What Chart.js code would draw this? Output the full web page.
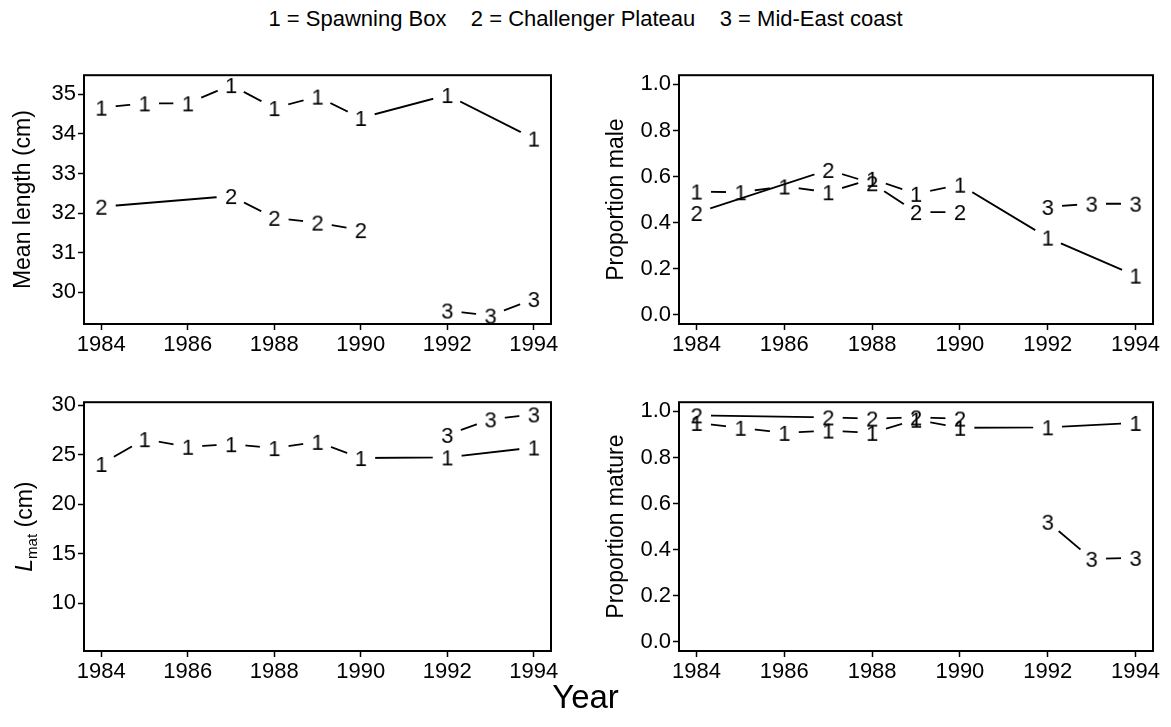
<!DOCTYPE html>
<html><head><meta charset="utf-8">
<script src="https://cdn.jsdelivr.net/npm/chart.js@4.4.0/dist/chart.umd.min.js"></script>
<style>
body{margin:0;background:#fff;width:1171px;height:727px;position:relative;overflow:hidden;font-family:"Liberation Sans",Arial,sans-serif;color:#000;}
.p{position:absolute;}
#title{position:absolute;top:6px;left:0;width:1171px;text-align:center;font-size:22px;white-space:pre;}
#xtitle{position:absolute;top:678px;left:0;width:1171px;text-align:center;font-size:33px;}
</style></head><body>
<div id="title">1 = Spawning Box    2 = Challenger Plateau    3 = Mid-East coast</div>
<canvas id="c1" class="p" style="left:0;top:60px" width="570" height="310"></canvas>
<canvas id="c2" class="p" style="left:590px;top:60px" width="581" height="310"></canvas>
<canvas id="c3" class="p" style="left:0;top:387px" width="570" height="310"></canvas>
<canvas id="c4" class="p" style="left:590px;top:387px" width="581" height="310"></canvas>
<div id="xtitle">Year</div>
<script>
// ---- data ----
const yearsSpawning = [1984, 1985, 1986, 1987, 1988, 1989, 1990, 1992, 1994];
const yearsChallenger = [1984, 1987, 1988, 1989, 1990];
const yearsMidEast = [1992, 1993, 1994];

const meanLengthSpawning = [34.66, 34.77, 34.77, 35.23, 34.65, 34.94, 34.40, 34.98, 33.88];
const meanLengthChallenger = [32.16, 32.43, 31.88, 31.76, 31.57];
const meanLengthMidEast = [29.54, 29.41, 29.83];

const propMaleSpawning = [0.535, 0.532, 0.557, 0.532, 0.59, 0.525, 0.565, 0.335, 0.17];
const propMaleChallenger = [0.442, 0.629, 0.571, 0.446, 0.446];
const propMaleMidEast = [0.468, 0.482, 0.482];

const lmatSpawning = [24.07, 26.57, 25.8, 26.07, 25.67, 26.3, 24.67, 24.73, 25.73];
const lmatMidEast = [27.0, 28.57, 29.07];

const propMatureSpawning = [0.95, 0.929, 0.907, 0.917, 0.907, 0.964, 0.929, 0.931, 0.95];
const propMatureChallenger = [0.983, 0.974, 0.969, 0.974, 0.969];
const propMatureMidEast = [0.521, 0.36, 0.364];

const yearTicks = [1984, 1986, 1988, 1990, 1992, 1994];
const meanLengthTicks = [30, 31, 32, 33, 34, 35];
const proportionTicks = [0, 0.2, 0.4, 0.6, 0.8, 1.0];
const lmatTicks = [10, 15, 20, 25, 30];

// ---- drawing ----
const FAM = '"Liberation Sans", Arial, sans-serif';
const GAP = 14.5;

function digitImg(d) {
  const c = document.createElement('canvas');
  c.width = 26; c.height = 28;
  const x = c.getContext('2d');
  x.font = '22px ' + FAM;
  x.fillStyle = '#000';
  x.textAlign = 'center';
  x.textBaseline = 'alphabetic';
  x.fillText(d, 13, 14 + 8);
  return c;
}
const IMG = {1: digitImg('1'), 2: digitImg('2'), 3: digitImg('3')};

const gapPlugin = {
  id: 'gap',
  beforeDatasetDraw(chart, args) {
    const ds = chart.data.datasets[args.index];
    if (!ds.gapLine) return;
    const ctx = chart.ctx;
    ctx.save();
    ctx.beginPath();
    ctx.rect(0, 0, chart.width, chart.height);
    args.meta.data.forEach(p => {
      ctx.moveTo(p.x + GAP, p.y);
      ctx.arc(p.x, p.y, GAP, 0, Math.PI * 2);
    });
    ctx.clip('evenodd');
  },
  afterDatasetDraw(chart, args) {
    if (chart.data.datasets[args.index].gapLine) chart.ctx.restore();
  }
};
const boxPlugin = {
  id: 'box',
  beforeDatasetsDraw(chart) {
    const a = chart.chartArea, ctx = chart.ctx;
    ctx.save();
    ctx.strokeStyle = '#000';
    ctx.lineWidth = 2;
    ctx.strokeRect(a.left, a.top, a.right - a.left, a.bottom - a.top);
    ctx.restore();
  }
};

function makePanel(id, p) {
  const datasets = [];
  p.series.forEach(s => {
    const data = s.x.map((x, i) => ({x: x, y: s.y[i]}));
    datasets.push({type: 'line', data: data, borderColor: '#000', borderWidth: 1.8,
      pointRadius: 0, fill: false, tension: 0, gapLine: true, order: 2});
    datasets.push({type: 'scatter', data: data, pointStyle: IMG[s.label], pointRadius: 10,
      showLine: false, clip: false, order: 1});
  });
  const plugins = [gapPlugin, boxPlugin];
  if (p.customTitle) plugins.push(p.customTitle);
  return new Chart(document.getElementById(id), {
    data: {datasets: datasets},
    plugins: plugins,
    options: {
      responsive: false, animation: false, events: [],
      layout: {padding: {left: 0, top: 14, right: p.padRight, bottom: 0}},
      plugins: {legend: {display: false}, tooltip: {enabled: false}},
      scales: {
        x: {
          type: 'linear', min: 1983.6, max: 1994.4,
          afterBuildTicks: s => { s.ticks = yearTicks.map(v => ({value: v})); },
          ticks: {callback: v => String(v), font: {size: 22, family: FAM}, color: '#000',
            padding: 2, maxRotation: 0, autoSkip: false},
          grid: {display: true, drawOnChartArea: false, drawTicks: true, tickLength: 6,
            tickColor: '#000', tickWidth: 1.5},
          border: {display: false},
          afterFit: s => { s.height = 46; }
        },
        y: {
          type: 'linear', min: p.yMin, max: p.yMax,
          afterBuildTicks: s => { s.ticks = p.yTicks.map(v => ({value: v})); },
          ticks: {callback: p.fmt, font: {size: 22, family: FAM}, color: '#000',
            padding: 2, autoSkip: false},
          grid: {display: true, drawOnChartArea: false, drawTicks: true, tickLength: 6,
            tickColor: '#000', tickWidth: 1.5},
          border: {display: false},
          title: {display: !!p.yTitle, text: p.yTitle || '', color: '#000',
            font: {size: 23, family: FAM}, padding: {top: p.titlePad, bottom: 0}},
          afterFit: s => { s.width = p.yWidth; }
        }
      }
    }
  });
}

const lmatTitle = {
  id: 'lmatTitle',
  afterDraw(chart) {
    const ctx = chart.ctx;
    const a = chart.chartArea;
    ctx.save();
    ctx.translate(24, (a.top + a.bottom) / 2);
    ctx.rotate(-Math.PI / 2);
    ctx.fillStyle = '#000';
    ctx.textBaseline = 'alphabetic';
    const f1 = 'italic 23px ' + FAM, f2 = '15px ' + FAM, f3 = '23px ' + FAM;
    ctx.font = f1; const w1 = ctx.measureText('L').width;
    ctx.font = f2; const w2 = ctx.measureText('mat').width;
    ctx.font = f3; const w3 = ctx.measureText(' (cm)').width;
    let x = -(w1 + w2 + w3) / 2;
    ctx.font = f1; ctx.fillText('L', x, 8); x += w1;
    ctx.font = f2; ctx.fillText('mat', x, 13); x += w2;
    ctx.font = f3; ctx.fillText(' (cm)', x, 8);
    ctx.restore();
  }
};

const fmtInt = v => String(v);
const fmt1 = v => Number(v).toFixed(1);

makePanel('c1', {
  series: [
    {label: 1, x: yearsSpawning, y: meanLengthSpawning},
    {label: 2, x: yearsChallenger, y: meanLengthChallenger},
    {label: 3, x: yearsMidEast, y: meanLengthMidEast}
  ],
  yMin: 29.2, yMax: 35.48, yTicks: meanLengthTicks, fmt: fmtInt,
  yTitle: 'Mean length (cm)', titlePad: 10, yWidth: 84, padRight: 19
});
makePanel('c2', {
  series: [
    {label: 1, x: yearsSpawning, y: propMaleSpawning},
    {label: 2, x: yearsChallenger, y: propMaleChallenger},
    {label: 3, x: yearsMidEast, y: propMaleMidEast}
  ],
  yMin: -0.04, yMax: 1.04, yTicks: proportionTicks, fmt: fmt1,
  yTitle: 'Proportion male', titlePad: 13, yWidth: 89, padRight: 18
});
makePanel('c3', {
  series: [
    {label: 1, x: yearsSpawning, y: lmatSpawning},
    {label: 3, x: yearsMidEast, y: lmatMidEast}
  ],
  yMin: 5.2, yMax: 30.3, yTicks: lmatTicks, fmt: fmtInt,
  yTitle: '', titlePad: 10, yWidth: 84, padRight: 19, customTitle: lmatTitle
});
makePanel('c4', {
  series: [
    {label: 1, x: yearsSpawning, y: propMatureSpawning},
    {label: 2, x: yearsChallenger, y: propMatureChallenger},
    {label: 3, x: yearsMidEast, y: propMatureMidEast}
  ],
  yMin: -0.04, yMax: 1.04, yTicks: proportionTicks, fmt: fmt1,
  yTitle: 'Proportion mature', titlePad: 13, yWidth: 89, padRight: 18
});
</script>
</body></html>
